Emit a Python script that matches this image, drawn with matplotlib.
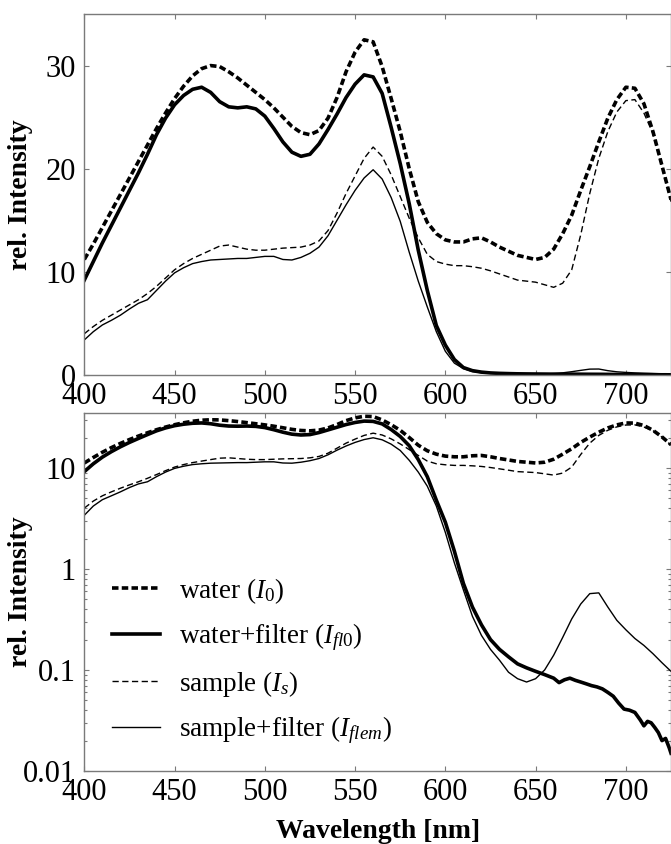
import numpy as np
import matplotlib.pyplot as plt
from matplotlib.ticker import LogLocator, NullFormatter, FixedLocator, FixedFormatter

plt.rcParams.update({
    'font.family': 'Liberation Serif',
    'mathtext.fontset': 'custom',
    'mathtext.rm': 'Liberation Serif',
    'mathtext.it': 'Liberation Serif:italic',
    'mathtext.bf': 'Liberation Serif:bold',
})

# wavelength grid [nm], 5 nm steps
wl = [400, 405, 410, 415, 420, 425, 430, 435, 440, 445, 450, 455, 460, 465, 470, 475,
      480, 485, 490, 495, 500, 505, 510, 515, 520, 525, 530, 535, 540, 545, 550, 555,
      560, 565, 570, 575, 580, 585, 590, 595, 600, 605, 610, 615, 620, 625, 630, 635,
      640, 645, 650, 655, 660, 665, 670, 675, 680, 685, 690, 695, 700, 705, 710, 715,
      720, 725]

# water (I0)
water = [11.2, 12.7, 14.3, 15.9, 17.5, 19.1, 20.7, 22.3, 23.9, 25.4, 26.8, 28.0, 29.0, 29.7, 30.0, 29.9,
         29.4, 28.8, 28.1, 27.4, 26.7, 25.9, 25.0, 24.1, 23.5, 23.3, 23.7, 24.9, 26.9, 29.4, 31.3, 32.5,
         32.3, 29.9, 26.8, 23.6, 20.0, 16.8, 14.8, 13.7, 13.1, 12.9, 12.9, 13.2, 13.3, 12.9, 12.4, 12.0,
         11.6, 11.4, 11.2, 11.4, 12.2, 13.7, 15.5, 17.9, 20.2, 22.6, 24.9, 26.7, 27.9, 27.8, 26.3, 23.6,
         20.3, 17.0]

# sample (Is)
sample = [4.0, 4.7, 5.3, 5.8, 6.3, 6.8, 7.3, 7.9, 8.6, 9.4, 10.2, 10.8, 11.3, 11.7, 12.1, 12.5,
          12.6, 12.4, 12.2, 12.1, 12.1, 12.2, 12.3, 12.35, 12.4, 12.6, 13.0, 14.0, 15.7, 17.6, 19.3, 21.0,
          22.1, 21.2, 19.4, 17.3, 15.2, 13.3, 11.7, 11.0, 10.75, 10.6, 10.6, 10.5, 10.35, 10.1, 9.8, 9.5,
          9.2, 9.1, 9.0, 8.75, 8.5, 8.9, 10.2, 13.6, 17.6, 21.0, 23.6, 25.5, 26.6, 26.7, 25.4, 23.4,
          20.2, 16.8]

# sample + filter (Iflem)
sample_filt = [3.4, 4.2, 4.85, 5.3, 5.8, 6.4, 6.95, 7.3, 8.2, 9.1, 9.9, 10.4, 10.8, 11.0, 11.15, 11.2,
               11.25, 11.3, 11.3, 11.4, 11.5, 11.5, 11.2, 11.15, 11.4, 11.8, 12.4, 13.5, 15.0, 16.5, 17.9, 19.1,
               19.9, 19.0, 17.2, 14.9, 11.9, 9.1, 6.6, 4.2, 2.3, 1.15, 0.62, 0.34, 0.22, 0.16, 0.125, 0.095,
               0.082, 0.076, 0.082, 0.1, 0.14, 0.21, 0.32, 0.45, 0.57, 0.58, 0.42, 0.31, 0.25, 0.205, 0.175, 0.145,
               0.118, 0.097]

# water + filter (Ifl0), own grid (noisy tail above 660 nm)
wl_wf = [400, 405, 410, 415, 420, 425, 430, 435, 440, 445, 450, 455, 460, 465, 470, 475,
         480, 485, 490, 495, 500, 505, 510, 515, 520, 525, 530, 535, 540, 545, 550, 555,
         560, 565, 570, 575, 580, 585, 590, 595, 600, 605, 610, 615, 620, 625, 630, 635,
         640, 645, 650, 655, 660, 663, 666, 669, 672, 675, 678, 681, 684, 687, 690, 693,
         696, 699, 702, 705, 708, 710, 712, 714, 716, 718, 720, 722, 724, 725]
water_filt = [9.2, 11.0, 12.8, 14.5, 16.2, 17.9, 19.6, 21.4, 23.3, 24.9, 26.2, 27.1, 27.7, 27.9, 27.4, 26.5,
              26.0, 25.9, 26.0, 25.8, 25.1, 23.9, 22.6, 21.6, 21.2, 21.4, 22.4, 23.8, 25.3, 26.9, 28.2, 29.1,
              28.9, 27.3, 24.0, 20.5, 16.6, 12.1, 8.2, 4.8, 2.9, 1.5, 0.72, 0.42, 0.28, 0.2, 0.16, 0.135,
              0.115, 0.105, 0.097, 0.09, 0.083, 0.075, 0.08, 0.083, 0.079, 0.076, 0.073, 0.07, 0.068, 0.065, 0.06, 0.055,
              0.047, 0.041, 0.04, 0.038, 0.032, 0.028, 0.031, 0.03, 0.027, 0.024, 0.02, 0.021, 0.017, 0.015]

labels = [r'water ($I_{\mathit{0}}$)',
          r'water+filter ($I_{\mathit{fl0}}$)',
          r'sample ($I_{\mathit{s}}$)',
          r'sample+filter ($I_{\mathit{flem}}$)']

W, H = 671, 844
fig = plt.figure(figsize=(W / 100, H / 100), dpi=100)
left = 84.3 / W
ax_lin = fig.add_axes([left, 1 - 375 / H, 1 - left, (375 - 14) / H])
ax_log = fig.add_axes([left, 1 - 771 / H, 1 - left, (771 - 413) / H])

spine_col = '#7a7a7a'
for ax in (ax_lin, ax_log):
    ax.plot(wl, water, color='k', lw=2.6, dashes=(1.8, 0.9), label=labels[0])
    ax.plot(wl_wf, water_filt, color='k', lw=2.6, label=labels[1])
    ax.plot(wl, sample, color='k', lw=1.0, dashes=(4.5, 2.5), label=labels[2])
    ax.plot(wl, sample_filt, color='k', lw=1.0, label=labels[3])
    ax.set_xlim(400, 725)
    ax.set_xticks([400, 450, 500, 550, 600, 650, 700])
    for s in ax.spines.values():
        s.set_color(spine_col)
        s.set_linewidth(1.0)
    ax.tick_params(which='both', direction='in', top=True, right=True,
                   color=spine_col, labelsize=22, width=0.8)
    ax.tick_params(which='major', length=3.8)
    ax.tick_params(which='minor', length=2.2)
    ax.tick_params(axis='x', pad=5)
    ax.tick_params(axis='y', pad=6)
    ax.set_ylabel('rel. Intensity', fontsize=20, fontweight='bold')
    ax.yaxis.set_label_coords(-0.087, 0.5)

ax_lin.set_ylim(0, 35)
ax_lin.set_yticks([0, 10, 20, 30])

ax_log.set_yscale('log')
ax_log.set_ylim(0.01, 35)
ax_log.yaxis.set_major_locator(FixedLocator([0.01, 0.1, 1, 10]))
ax_log.yaxis.set_major_formatter(FixedFormatter(['0.01', '0.1', '1', '10']))
ax_log.yaxis.set_minor_locator(LogLocator(base=10, subs=np.arange(2, 10)))
ax_log.yaxis.set_minor_formatter(NullFormatter())
ax_log.set_xlabel('Wavelength [nm]', fontsize=20, fontweight='bold')
ax_log.xaxis.set_label_coords(0.5, -0.133)

ax_log.legend(loc='upper left', bbox_to_anchor=(0.047, 0.545), frameon=False,
              fontsize=19.5, borderpad=0, borderaxespad=0, handlelength=1.77,
              handletextpad=0.7, labelspacing=0.58)

fig.savefig('out.png', dpi=100)
